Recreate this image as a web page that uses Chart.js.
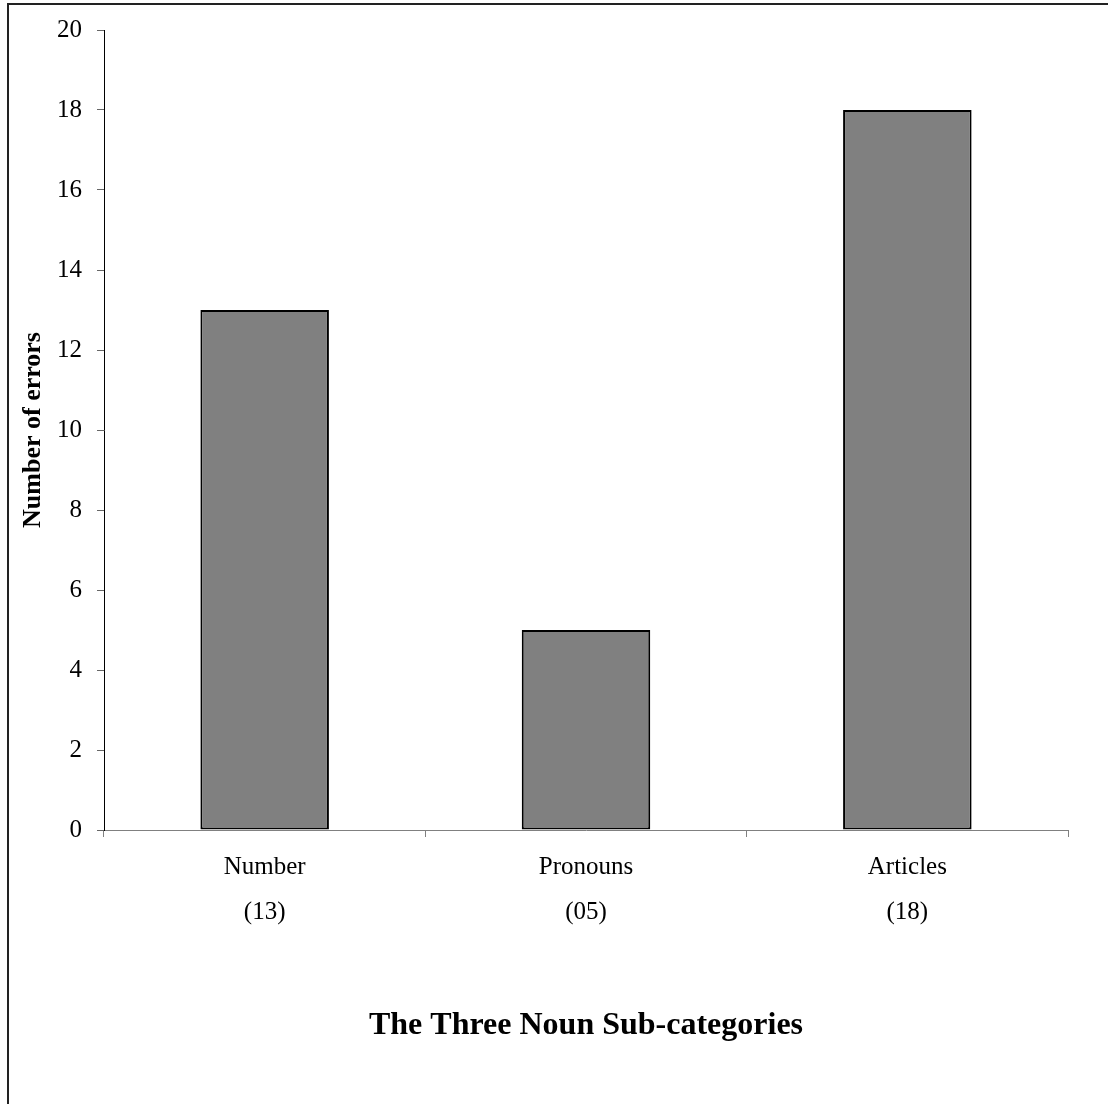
<!DOCTYPE html>
<html>
<head>
<meta charset="utf-8">
<script src="https://cdn.jsdelivr.net/npm/chart.js@4.4.0/dist/chart.umd.min.js"></script>
<style>
  body { margin: 0; background: #fff; }
  canvas { display: block; }
</style>
</head>
<body>
<canvas id="errorsChart" width="1108" height="1104"></canvas>
<script>
var categories = ['Number', 'Pronouns', 'Articles'];
var countLabels = ['(13)', '(05)', '(18)'];
var errorCounts = [13, 5, 18];
var yMin = 0, yMax = 20, yStep = 2;

var serif = '"Liberation Serif", "Times New Roman", serif';

// the figure only has its top and left frame edges visible
var framePlugin = {
    id: 'frame',
    beforeDraw: function (chart) {
        var ctx = chart.ctx;
        ctx.save();
        ctx.fillStyle = '#fff';
        ctx.fillRect(0, 0, chart.width, chart.height);
        ctx.strokeStyle = '#222';
        ctx.lineWidth = 2;
        ctx.beginPath();
        ctx.moveTo(8, chart.height);
        ctx.lineTo(8, 4);
        ctx.lineTo(chart.width, 4);
        ctx.stroke();
        ctx.restore();
    }
};

var labels = categories.map(function (c, i) { return [c, countLabels[i]]; });

var ctx = document.getElementById('errorsChart').getContext('2d');
new Chart(ctx, {
    type: 'bar',
    data: {
        labels: labels,
        datasets: [{
            data: errorCounts,
            backgroundColor: '#808080',
            borderColor: '#000',
            borderWidth: 2,
            borderSkipped: false,
            barPercentage: 0.4,
            categoryPercentage: 1.0
        }]
    },
    options: {
        responsive: false,
        animation: false,
        layout: { padding: { left: 0, top: 25, right: 40, bottom: 0 } },
        plugins: {
            legend: { display: false },
            tooltip: { enabled: false }
        },
        scales: {
            x: {
                offset: true,
                grid: {
                    offset: true,
                    drawOnChartArea: false,
                    tickLength: 7,
                    color: '#808080'
                },
                border: { color: '#808080', width: 1 },
                ticks: {
                    color: '#000',
                    padding: 8,
                    maxRotation: 0,
                    font: { family: serif, size: 25, lineHeight: 1.8 }
                },
                title: {
                    display: true,
                    text: 'The Three Noun Sub-categories',
                    color: '#000',
                    font: { family: serif, size: 32, weight: 'bold', lineHeight: 1.2 },
                    padding: { top: 59, bottom: 59 }
                },
                afterFit: function (scale) { scale.height = 274; }
            },
            y: {
                min: yMin,
                max: yMax,
                grid: {
                    drawOnChartArea: false,
                    tickLength: 7,
                    color: '#666'
                },
                border: { color: '#000', width: 1 },
                ticks: {
                    stepSize: yStep,
                    color: '#000',
                    padding: 15,
                    font: { family: serif, size: 25 }
                },
                title: {
                    display: true,
                    text: 'Number of errors',
                    color: '#000',
                    font: { family: serif, size: 26, weight: 'bold', lineHeight: 1.2 },
                    padding: { top: 18, bottom: 18 }
                },
                afterFit: function (scale) { scale.width = 104; }
            }
        }
    },
    plugins: [framePlugin]
});
</script>
</body>
</html>
